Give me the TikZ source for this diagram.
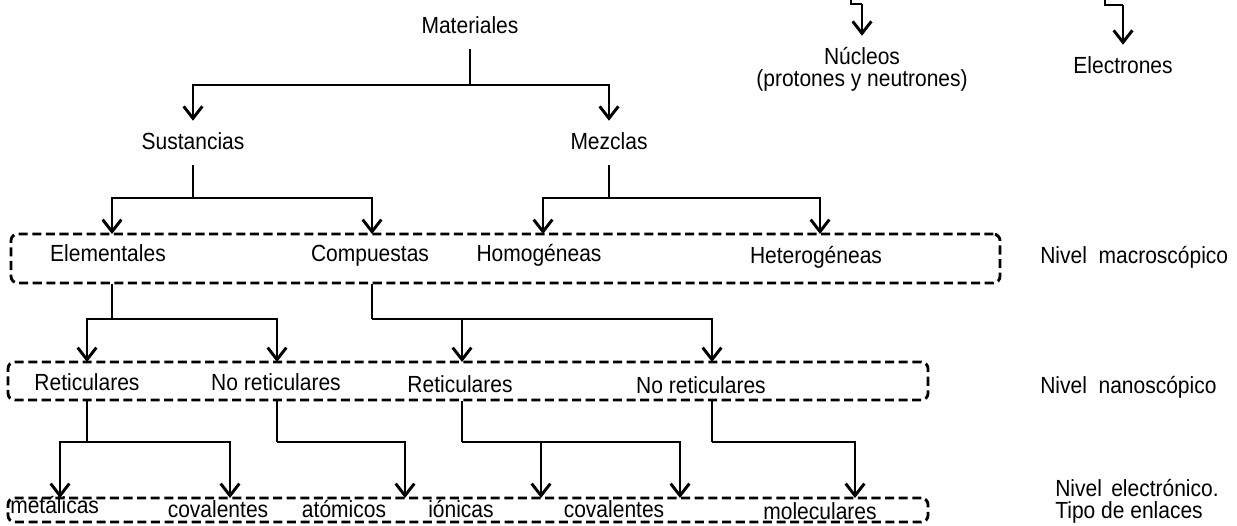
\documentclass[tikz,border=0pt]{standalone}
\usepackage{fontspec}
\setmainfont{Liberation Sans}[FakeStretch=0.9]
\usetikzlibrary{arrows.meta,fit}

\begin{document}
\begin{tikzpicture}[x=0.75pt,y=-0.75pt,
  lbl/.style={font=\fontsize{17.5pt}{17pt}\selectfont, inner xsep=0pt,
              inner ysep=8.15pt, text height=13pt, text depth=3.7pt},
  lblm/.style={font=\fontsize{17.5pt}{16.5pt}\selectfont, inner sep=0pt,
               align=left},
  ln/.style={line width=2.2pt},
  arr/.style={line width=2.2pt, -{Straight Barb[length=9pt,width=14pt]}},
  dbox/.style={draw, line width=2.1pt, dash pattern=on 6.8pt off 3.4pt,
               rounded corners=5pt, inner sep=0pt}]

\useasboundingbox (0,0) rectangle (1237,525);

% level frames
\node[dbox, fit={(11,234) (1000,283)}] (macro) {};
\node[dbox, fit={(8,362) (928,400)}] (nano) {};
\node[dbox, fit={(8,498) (928,522)}] (elec) {};

% fork levels
\coordinate (r1) at (0,85);
\coordinate (r2) at (0,198);
\coordinate (r3) at (0,319);
\coordinate (r4) at (0,442);

% top levels
\node[lbl] (mat) at (470,27) {Materiales};
\node[lbl] (sus) at (193,143) {Sustancias};
\node[lbl] (mez) at (609,143) {Mezclas};

% macroscopic level
\node[lbl] (elem) at (108,255) {Elementales};
\node[lbl] (comp) at (370,255) {Compuestas};
\node[lbl] (homo) at (539,255) {Homogéneas};
\node[lbl] (hete) at (816,257) {Heterogéneas};
\node[lbl, anchor=west] (lmac) at (1040,257) {Nivel\hspace{0.5em}macroscópico};

% nanoscopic level
\node[lbl] (ret1) at (87,384) {Reticulares};
\node[lbl] (nret1) at (276,384) {No reticulares};
\node[lbl] (ret2) at (460,386) {Reticulares};
\node[lbl] (nret2) at (701,387) {No reticulares};
\node[lbl, anchor=west] (lnan) at (1040,387) {Nivel\hspace{0.5em}nanoscópico};

% electronic level
\node[lbl, anchor=west] (met) at (10,507) {metálicas};
\node[lbl] (cov1) at (218,511) {covalentes};
\node[lbl] (ato) at (344,511) {atómicos};
\node[lbl] (ion) at (461,511) {iónicas};
\node[lbl] (cov2) at (614,511) {covalentes};
\node[lbl] (mol) at (820,513) {moleculares};
\node[lblm, anchor=base west] (lele) at (1055,518)
  {Nivel\hspace{0.4em}electrónico.\\Tipo de enlaces};

% particles
\node[lbl] (nuc) at (862,58) {Núcleos};
\node[lbl] (nuc2) at (862,80) {(protones y neutrones)};
\node[lbl] (ele) at (1123,67) {Electrones};
\coordinate (nuc-src) at (851,-4);
\coordinate (nuc-bend) at (862,4);
\coordinate (ele-src) at (1105,-4);
\coordinate (ele-bend) at (1123,5);
\draw[ln] (nuc-src) |- (nuc-bend);
\draw[arr] (nuc-bend) -- (nuc.north);
\draw[ln] (ele-src) |- (ele-bend);
\draw[arr] (ele-bend) -- (ele.north);

% arrow landing points on the frames
\coordinate (in-elem) at (112,234);
\coordinate (in-comp) at (372,234);
\coordinate (in-homo) at (543,234);
\coordinate (in-hete) at (820,234);
\coordinate (in-ret1) at (87,362);
\coordinate (in-nret1) at (277,362);
\coordinate (in-ret2) at (462,362);
\coordinate (in-nret2) at (712,362);
\coordinate (in-met) at (60,498);
\coordinate (in-cov1) at (230,498);
\coordinate (in-ato) at (405,498);
\coordinate (in-ion) at (541,498);
\coordinate (in-cov2) at (680,498);
\coordinate (in-mol) at (855,498);

% Materiales -> Sustancias, Mezclas
\draw[ln] (mat.south) -- (mat.south |- r1);
\draw[arr] (mat.south |- r1) -| (sus.north);
\draw[arr] (mat.south |- r1) -| (mez.north);

% Sustancias -> Elementales, Compuestas
\draw[ln] (sus.south) -- (sus.south |- r2);
\draw[arr] (sus.south |- r2) -| (in-elem);
\draw[arr] (sus.south |- r2) -| (in-comp);

% Mezclas -> Homogeneas, Heterogeneas
\draw[ln] (mez.south) -- (mez.south |- r2);
\draw[arr] (mez.south |- r2) -| (in-homo);
\draw[arr] (mez.south |- r2) -| (in-hete);

% Elementales -> Reticulares, No reticulares
\draw[ln] (in-elem |- macro.south) -- (in-elem |- r3);
\draw[arr] (in-elem |- r3) -| (in-ret1);
\draw[arr] (in-elem |- r3) -| (in-nret1);

% Compuestas -> Reticulares, No reticulares
\draw[ln] (in-comp |- macro.south) -- (in-comp |- r3);
\draw[arr] (in-comp |- r3) -| (in-ret2);
\draw[arr] (in-comp |- r3) -| (in-nret2);

% nanoscopic -> bond types
\draw[ln] (in-ret1 |- nano.south) -- (in-ret1 |- r4);
\draw[arr] (in-ret1 |- r4) -| (in-met);
\draw[arr] (in-ret1 |- r4) -| (in-cov1);

\draw[ln] (in-nret1 |- nano.south) -- (in-nret1 |- r4);
\draw[arr] (in-nret1 |- r4) -| (in-ato);

\draw[ln] (in-ret2 |- nano.south) -- (in-ret2 |- r4);
\draw[arr] (in-ret2 |- r4) -| (in-ion);
\draw[arr] (in-ret2 |- r4) -| (in-cov2);

\draw[ln] (in-nret2 |- nano.south) -- (in-nret2 |- r4);
\draw[arr] (in-nret2 |- r4) -| (in-mol);
\end{tikzpicture}
\end{document}
